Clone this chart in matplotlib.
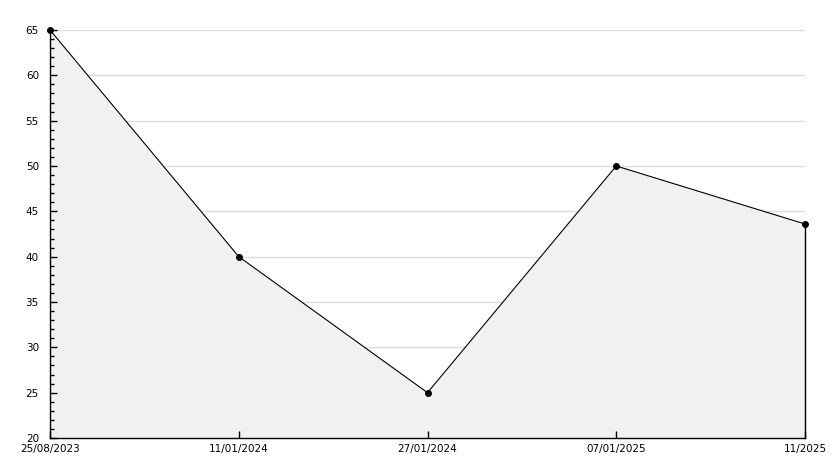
import matplotlib
matplotlib.use("Agg")
import matplotlib.pyplot as plt
from matplotlib.ticker import MultipleLocator

# data
dates = ['25/08/2023', '11/01/2024', '27/01/2024', '07/01/2025', '11/2025']
values = [65, 40, 25, 50, 43.6]
yticks = [20, 25, 30, 35, 40, 45, 50, 55, 60, 65]

fig = plt.figure(figsize=(8.34, 4.68), dpi=100)
ax = fig.add_axes([50 / 834, 30 / 468, 755 / 834, 408 / 468])

x = list(range(len(dates)))

# grid lines sit behind the grey area
for yv in yticks:
    ax.axhline(yv, color='#dcdcdc', linewidth=1, zorder=0.2)

# area under the line
ax.fill_between(x, values, 20, color='#f1f1f1', linewidth=0, zorder=1)
ax.plot([x[-1], x[-1]], [20, values[-1]], color='black', linewidth=1,
        clip_on=False, zorder=3)
ax.plot(x, values, color='black', linewidth=0.8, marker='o', markersize=4,
        markerfacecolor='black', markeredgecolor='black', clip_on=False,
        zorder=4)

ax.set_xlim(0, len(dates) - 1)
ax.set_ylim(20, 65)
ax.set_xticks(x)
ax.set_xticklabels(dates)
ax.set_yticks(yticks)
ax.yaxis.set_minor_locator(MultipleLocator(1))

for side in ['top', 'right']:
    ax.spines[side].set_visible(False)
for side in ['left', 'bottom']:
    ax.spines[side].set_linewidth(1)
    ax.spines[side].set_color('black')

ax.tick_params(axis='y', which='major', direction='in', length=5, width=1,
               labelsize=7.5, pad=8)
ax.tick_params(axis='y', which='minor', direction='in', length=3, width=1)
ax.tick_params(axis='x', which='major', direction='in', length=5, width=1,
               labelsize=7.5, pad=4)

plt.savefig('out.png', dpi=100)
